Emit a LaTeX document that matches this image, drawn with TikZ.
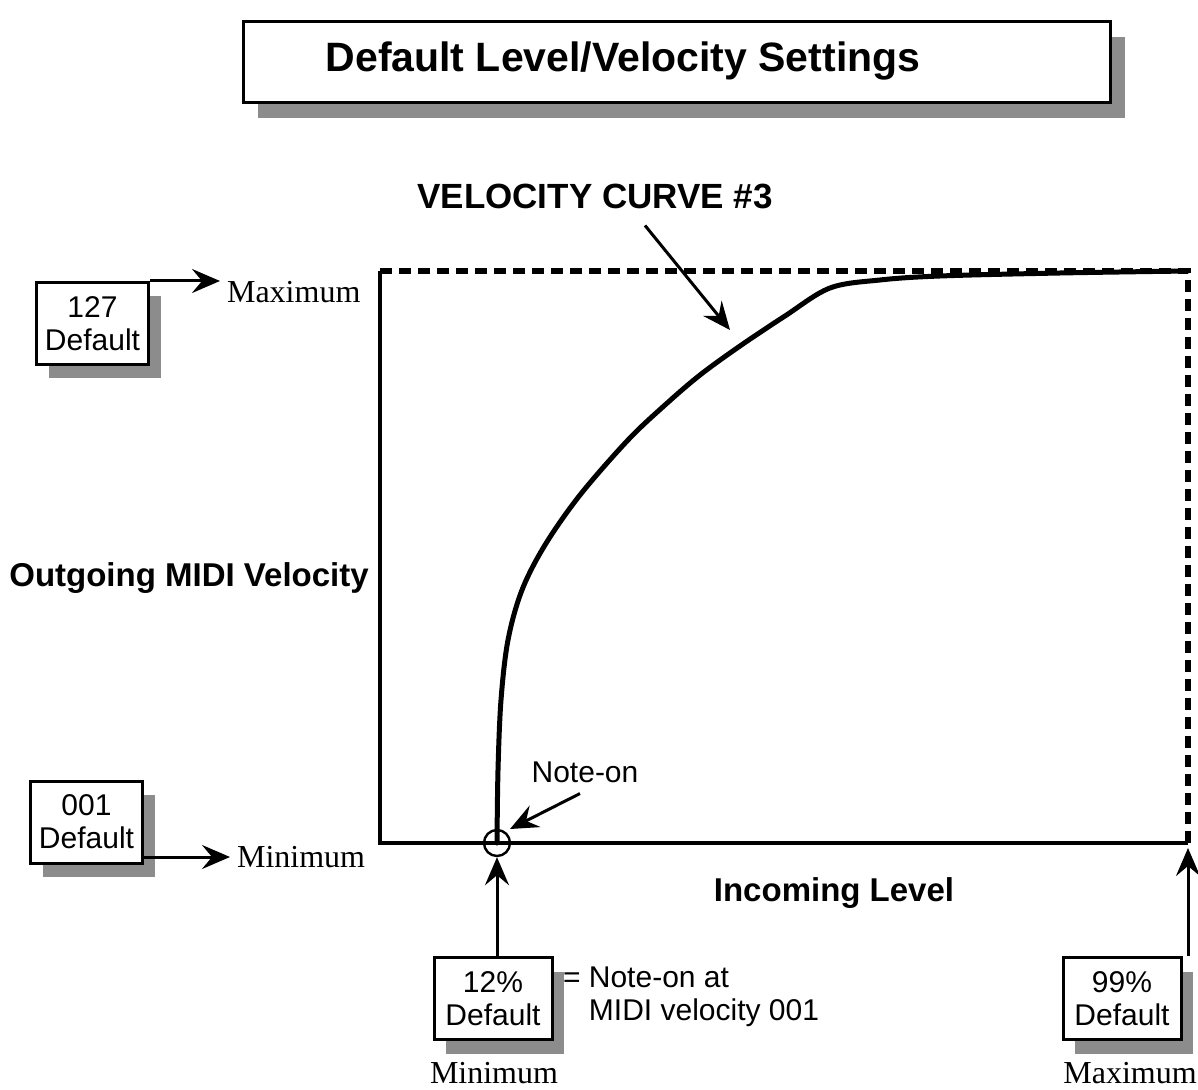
\documentclass[tikz,border=0pt]{standalone}
\usepackage{fontspec}
\setmainfont{Liberation Serif}
\setsansfont{Liberation Sans}
\usetikzlibrary{arrows.meta,shadows,calc}

\tikzset{
  shbox/.style={draw=black, line width=1.5pt, fill=white, font=\sffamily\fontsize{15}{16.5}\selectfont,
    align=center, inner sep=0pt, minimum width=56pt, minimum height=41pt,
    drop shadow={shadow xshift=6pt, shadow yshift=-7pt, fill=black!45, opacity=1}},
  axis/.style={line width=2pt},
  dashax/.style={line width=2.6pt, dash pattern=on 6pt off 3.5pt},
  curve/.style={line width=2.5pt, line cap=round, line join=round},
  pointer/.style={line width=1.5pt, -{Stealth[length=14pt, width=12pt, inset=5pt]}},
  bold/.style={font=\sffamily\bfseries\fontsize{16.5}{19}\selectfont},
  serif/.style={font=\rmfamily\fontsize{16}{18}\selectfont},
  plain/.style={font=\sffamily\fontsize{15}{16.5}\selectfont}
}

\begin{document}
\begin{tikzpicture}[x=0.5pt, y=-0.5pt]
\useasboundingbox (0,0) rectangle (1198,1090);

% title banner
\node[draw=black, line width=1.5pt, fill=white, minimum width=433.5pt, minimum height=40.5pt,
  drop shadow={shadow xshift=7.5pt, shadow yshift=-7.5pt, fill=black!45, opacity=1}]
  (titlebox) at (676.5,62.5) {};
\node[font=\sffamily\bfseries\fontsize{20.5}{24}\selectfont] (title) at (623,61) {Default Level/Velocity Settings};

% plot frame
\coordinate (O) at (380,843);
\coordinate (TL) at (380,271);
\coordinate (TR) at (1188,271);
\coordinate (BR) at (1188,843);
\draw[axis] (TL) -- (O) -- (BR);
\draw[dashax] (TL) -- (TR) -- (BR);

% velocity curve
\coordinate (start) at (497,843);
\draw[curve] plot[smooth, tension=0.55] coordinates {
  (497,843) (498,770) (501,700) (508,640) (522,590) (545,545) (580,495)
  (628,440) (665,405) (700,375) (740,346) (785,316) (830,288) (880,280)
  (940,276) (1060,273) (1188,271)};
\node[draw=black, line width=1.2pt, circle, minimum size=13pt, inner sep=0pt] (circ) at (start) {};

% labels of the curve
\node[font=\sffamily\bfseries\fontsize{17.5}{20}\selectfont] (vc) at (595,196) {VELOCITY CURVE \#3};
\coordinate (vcend) at (730,330);
\draw[pointer] ($(vc.south)+(50,10)$) -- (vcend);
\node[plain] (noteon) at (585,772) {Note-on};
\draw[pointer] ($(noteon.south)+(-5,4)$) -- (510,829);

% axis titles
\node[bold] (ylab) at (189,578) {Outgoing MIDI Velocity};
\node[bold] (xlab) at (834,893) {Incoming Level};

% vertical axis settings
\node[shbox] (b127) at (92.5,323.5) {127\\Default};
\node[serif, anchor=west] (maxL) at (220,292) {Maximum};
\draw[pointer] (b127.north east) -- (b127.north east -| maxL.west);

\node[shbox] (b001) at (86.5,822) {001\\Default};
\node[serif, anchor=west] (minL) at (230,857) {Minimum};
\draw[pointer] (b001.east |- minL) -- (minL.west);

% horizontal axis settings
\node[shbox, minimum width=59pt] (b12) at (493,998.5) {12\%\\Default};
\node[serif] (minB) at (494,1073) {Minimum};
\draw[pointer] (b12.north -| start) -- (circ.south);
\node[plain, anchor=north west, align=left] (eq) at (556,960) {= Note-on at\\\hphantom{= }MIDI velocity 001};

\node[shbox, minimum width=59pt] (b99) at (1122,998.5) {99\%\\Default};
\node[serif] (maxB) at (1130,1073) {Maximum};
\draw[pointer] (b99.north -| BR) -- ($(BR)+(0,5)$);

\end{tikzpicture}
\end{document}
